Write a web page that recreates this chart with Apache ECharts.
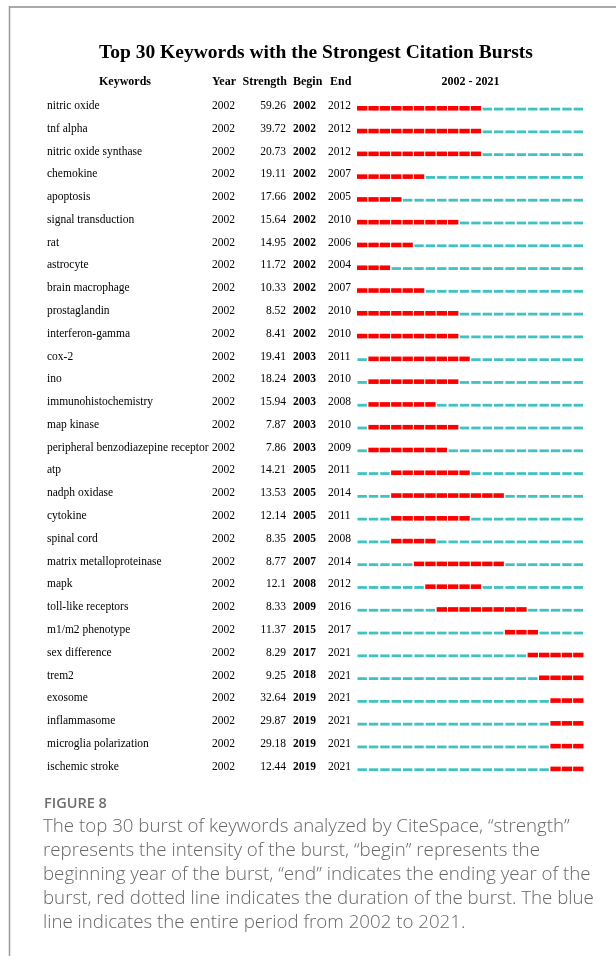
<!DOCTYPE html>
<html>
<head>
<meta charset="utf-8">
<script src="https://cdn.jsdelivr.net/npm/echarts@6/dist/echarts.min.js"></script>
<style>
  html, body { margin: 0; padding: 0; background: #fff; }
  #chart { width: 616px; height: 956px; }
</style>
</head>
<body>
<div id="chart"></div>
<script>
// 关键词突现数据
const keywords = [
  'nitric oxide', 'tnf alpha', 'nitric oxide synthase', 'chemokine', 'apoptosis',
  'signal transduction', 'rat', 'astrocyte', 'brain macrophage', 'prostaglandin',
  'interferon-gamma', 'cox-2', 'ino', 'immunohistochemistry', 'map kinase',
  'peripheral benzodiazepine receptor', 'atp', 'nadph oxidase', 'cytokine', 'spinal cord',
  'matrix metalloproteinase', 'mapk', 'toll-like receptors', 'm1/m2 phenotype', 'sex difference',
  'trem2', 'exosome', 'inflammasome', 'microglia polarization', 'ischemic stroke'
];
const firstYears = [
  2002, 2002, 2002, 2002, 2002, 2002, 2002, 2002, 2002, 2002,
  2002, 2002, 2002, 2002, 2002, 2002, 2002, 2002, 2002, 2002,
  2002, 2002, 2002, 2002, 2002, 2002, 2002, 2002, 2002, 2002
];
const strengths = [
  '59.26', '39.72', '20.73', '19.11', '17.66', '15.64', '14.95', '11.72', '10.33', '8.52',
  '8.41', '19.41', '18.24', '15.94', '7.87', '7.86', '14.21', '13.53', '12.14', '8.35',
  '8.77', '12.1', '8.33', '11.37', '8.29', '9.25', '32.64', '29.87', '29.18', '12.44'
];
const begins = [
  2002, 2002, 2002, 2002, 2002, 2002, 2002, 2002, 2002, 2002,
  2002, 2003, 2003, 2003, 2003, 2003, 2005, 2005, 2005, 2005,
  2007, 2008, 2009, 2015, 2017, 2018, 2019, 2019, 2019, 2019
];
const ends = [
  2012, 2012, 2012, 2007, 2005, 2010, 2006, 2004, 2007, 2010,
  2010, 2011, 2010, 2008, 2010, 2009, 2011, 2014, 2011, 2008,
  2014, 2012, 2016, 2017, 2021, 2021, 2021, 2021, 2021, 2021
];
const yearStart = 2002;
const yearEnd = 2021;

const SERIF = '"Liberation Serif", "Times New Roman", serif';
const SANS = '"Open Sans", "Noto Sans", sans-serif';
const RED = '#ff0000';
const TEAL = '#3fc2c1';

// 每个关键词每一年一个小段
const segData = [];
keywords.forEach((k, i) => {
  for (let y = yearStart; y <= yearEnd; y++) {
    segData.push([y, i, (y >= begins[i] && y <= ends[i]) ? 1 : 0]);
  }
});
const rowData = keywords.map((k, i) => [yearStart, i]);

const chart = echarts.init(document.getElementById('chart'), null, { renderer: 'canvas' });

const caption = [
  'The top 30 burst of keywords analyzed by CiteSpace, \u201cstrength\u201d',
  'represents the intensity of the burst, \u201cbegin\u201d represents the',
  'beginning year of the burst, \u201cend\u201d indicates the ending year of the',
  'burst, red dotted line indicates the duration of the burst. The blue',
  'line indicates the entire period from 2002 to 2021.'
];

const headerStyle = { fontFamily: SERIF, fontSize: 12, fontWeight: 'bold', fill: '#000', verticalAlign: 'middle' };

const option = {
  animation: false,
  backgroundColor: '#fff',
  title: {
    text: 'Top 30 Keywords with the Strongest Citation Bursts',
    left: 311, top: 38, textAlign: 'center',
    textStyle: { fontFamily: SERIF, fontSize: 19.5, fontWeight: 'bold', color: '#000' }
  },
  grid: { left: 357, right: 31.5, top: 96.9, height: 683.4, containLabel: false },
  xAxis: {
    type: 'value', min: yearStart, max: yearEnd + 1,
    show: false
  },
  yAxis: {
    type: 'category', inverse: true,
    data: keywords,
    show: false
  },
  graphic: [
    // 外框
    { type: 'line', shape: { x1: 9, y1: 7, x2: 616, y2: 7 }, style: { stroke: '#aaa', lineWidth: 2 } },
    { type: 'line', shape: { x1: 9.5, y1: 6, x2: 9.5, y2: 956 }, style: { stroke: '#999', lineWidth: 1.5 } },
    // 表头
    { type: 'text', x: 125, y: 82, style: Object.assign({ text: 'Keywords', align: 'center' }, headerStyle) },
    { type: 'text', x: 212, y: 82, style: Object.assign({ text: 'Year', align: 'left' }, headerStyle) },
    { type: 'text', x: 287, y: 82, style: Object.assign({ text: 'Strength', align: 'right' }, headerStyle) },
    { type: 'text', x: 293, y: 82, style: Object.assign({ text: 'Begin', align: 'left' }, headerStyle) },
    { type: 'text', x: 330, y: 82, style: Object.assign({ text: 'End', align: 'left' }, headerStyle) },
    { type: 'text', x: 470.5, y: 82, style: Object.assign({ text: yearStart + ' - ' + yearEnd, align: 'center' }, headerStyle) },
    // 图注
    { type: 'text', x: 44, y: 803.5, style: { text: 'FIGURE 8', fontFamily: SANS, fontSize: 14.5, fontWeight: 600, fill: '#6e6e6e', verticalAlign: 'middle' } }
  ].concat(caption.map((line, i) => ({
    type: 'text', x: 43, y: 827 + i * 24,
    style: { text: line, fontFamily: SANS, fontSize: 18.7, fontWeight: 300, fill: '#666', verticalAlign: 'middle' }
  }))),
  series: [
    {
      type: 'custom',
      name: 'segments',
      data: segData,
      encode: { x: 0, y: 1 },
      renderItem: function (params, api) {
        const p = api.coord([api.value(0), api.value(1)]);
        const w = api.size([1, 0])[0];
        const burst = api.value(2) === 1;
        if (burst) {
          return {
            type: 'rect',
            shape: { x: p[0], y: p[1] - 2.3, width: w - 1, height: 4.6 },
            style: { fill: RED }
          };
        }
        return {
          type: 'rect',
          shape: { x: p[0] + 0.5, y: p[1] - 0.6, width: w - 2, height: 2.8 },
          style: { fill: TEAL }
        };
      }
    },
    {
      type: 'custom',
      name: 'table',
      data: rowData,
      encode: { x: 0, y: 1 },
      renderItem: function (params, api) {
        const i = params.dataIndex;
        const p = api.coord([api.value(0), api.value(1)]);
        const ty = p[1] - 2.3;
        const base = { fontFamily: SERIF, fontSize: 11.5, fill: '#000', verticalAlign: 'middle' };
        return {
          type: 'group',
          children: [
            { type: 'text', x: 47, y: ty, style: Object.assign({ text: keywords[i], align: 'left' }, base) },
            { type: 'text', x: 212, y: ty, style: Object.assign({ text: String(firstYears[i]), align: 'left', fontSize: 12 }, base) },
            { type: 'text', x: 286, y: ty, style: Object.assign({ text: strengths[i], align: 'right', fontSize: 12 }, base) },
            { type: 'text', x: 293, y: ty, style: Object.assign({ text: String(begins[i]), align: 'left', fontWeight: 'bold', fontSize: 12 }, base) },
            { type: 'text', x: 328, y: ty, style: Object.assign({ text: String(ends[i]), align: 'left', fontSize: 12 }, base) }
          ]
        };
      }
    }
  ]
};

chart.setOption(option);
</script>
</body>
</html>
